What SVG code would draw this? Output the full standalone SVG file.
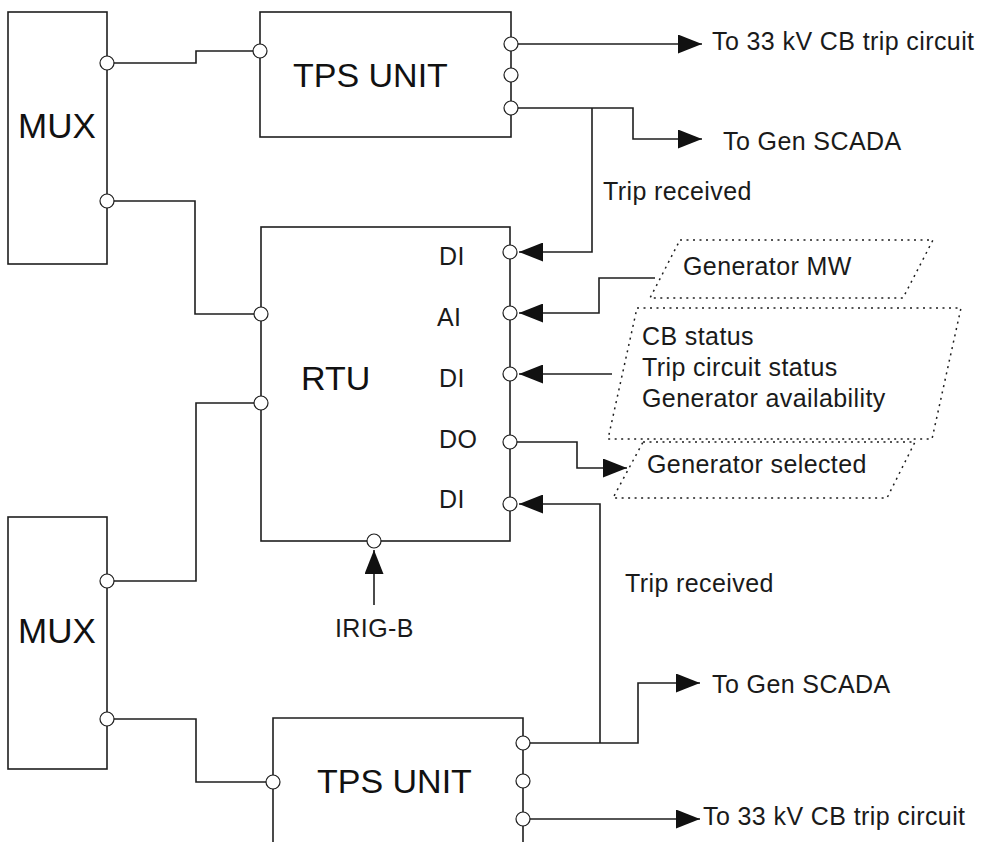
<svg xmlns="http://www.w3.org/2000/svg" width="993" height="842" viewBox="0 0 993 842">
<style>
.box{fill:none;stroke:#1e1e1e;stroke-width:1.6}
.port{fill:#fff;stroke:#1e1e1e;stroke-width:1.2}
.wire{fill:none;stroke:#1e1e1e;stroke-width:1.6}
.dot{fill:none;stroke:#1e1e1e;stroke-width:1.5;stroke-dasharray:2 4.5}
.big{font-family:"Liberation Sans",Arial,sans-serif;font-size:34px;fill:#111}
.lbl{font-family:"Liberation Sans",Arial,sans-serif;font-size:25px;fill:#1a1a1a;letter-spacing:0.4px}
</style>
<defs>
<marker id="ah" markerUnits="userSpaceOnUse" markerWidth="24" markerHeight="19" refX="24" refY="9.5" orient="auto">
<path d="M0,0 L24,9.5 L0,19 Z" fill="#111"/>
</marker>
</defs>
<rect width="993" height="842" fill="#fff"/>
<g id="connectors">
<path class="wire" d="M107,63 H196 V51 H260"/>
<path class="wire" d="M107,201 H195 V314 H261"/>
<path class="wire" d="M261,403 H196 V581 H107"/>
<path class="wire" d="M107,719 H196 V782 H273"/>
<path class="wire" d="M511,44 H702" marker-end="url(#ah)"/>
<path class="wire" d="M511,108 H633 V139 H702" marker-end="url(#ah)"/>
<path class="wire" d="M592,108 V252 H519" marker-end="url(#ah)"/>
<path class="wire" d="M655,278 H599 V313 H519" marker-end="url(#ah)"/>
<path class="wire" d="M612,374 H519" marker-end="url(#ah)"/>
<path class="wire" d="M510,442 H577 V468 H627" marker-end="url(#ah)"/>
<path class="wire" d="M600,743 V504 H519" marker-end="url(#ah)"/>
<path class="wire" d="M523,743 H638 V683 H700" marker-end="url(#ah)"/>
<path class="wire" d="M523,819 H700" marker-end="url(#ah)"/>
<path class="wire" d="M374,605 V550" marker-end="url(#ah)"/>
</g>
<g id="mux-top">
<rect class="box" x="8" y="12" width="99" height="252"/>
<text class="big" x="18" y="138" style="font-size:35px">MUX</text>
<circle class="port" cx="107" cy="63" r="7"/>
<circle class="port" cx="107" cy="201" r="7"/>
</g>
<g id="tps-top">
<rect class="box" x="260" y="12" width="251" height="125"/>
<text class="big" x="293" y="87">TPS UNIT</text>
<circle class="port" cx="260" cy="51" r="7"/>
<circle class="port" cx="511" cy="44" r="7"/>
<circle class="port" cx="511" cy="75" r="7"/>
<circle class="port" cx="511" cy="108" r="7"/>
</g>
<g id="rtu">
<rect class="box" x="261" y="227" width="249" height="314"/>
<text class="big" x="301" y="390">RTU</text>
<text class="lbl" x="439" y="265">DI</text>
<text class="lbl" x="437" y="326">AI</text>
<text class="lbl" x="439" y="387">DI</text>
<text class="lbl" x="439" y="448">DO</text>
<text class="lbl" x="439" y="508">DI</text>
<circle class="port" cx="261" cy="314" r="7"/>
<circle class="port" cx="261" cy="403" r="7"/>
<circle class="port" cx="510" cy="252" r="7"/>
<circle class="port" cx="510" cy="313" r="7"/>
<circle class="port" cx="510" cy="374" r="7"/>
<circle class="port" cx="510" cy="442" r="7"/>
<circle class="port" cx="510" cy="504" r="7"/>
<circle class="port" cx="374" cy="541" r="7"/>
</g>
<g id="mux-bottom">
<rect class="box" x="8" y="517" width="99" height="252"/>
<text class="big" x="18" y="643" style="font-size:35px">MUX</text>
<circle class="port" cx="107" cy="581" r="7"/>
<circle class="port" cx="107" cy="719" r="7"/>
</g>
<g id="tps-bottom">
<path class="box" d="M273,850 V718 H523 V850"/>
<text class="big" x="317" y="793">TPS UNIT</text>
<circle class="port" cx="273" cy="782" r="7"/>
<circle class="port" cx="523" cy="743" r="7"/>
<circle class="port" cx="523" cy="781" r="7"/>
<circle class="port" cx="523" cy="819" r="7"/>
</g>
<g id="gen-mw">
<polygon class="dot" points="680,240 933,240 903,298 650,298"/>
<text class="lbl" x="683" y="275">Generator MW</text>
</g>
<g id="status">
<polygon class="dot" points="637,308 961,308 932,439 608,439"/>
<text class="lbl" x="642" y="345">CB status</text>
<text class="lbl" x="642" y="376">Trip circuit status</text>
<text class="lbl" x="642" y="407">Generator availability</text>
</g>
<g id="gen-selected">
<polygon class="dot" points="643,442 915,442 887,498 613,498"/>
<text class="lbl" x="647" y="473">Generator selected</text>
</g>
<g id="labels">
<text class="lbl" x="712" y="50">To 33 kV CB trip circuit</text>
<text class="lbl" x="723" y="150">To Gen SCADA</text>
<text class="lbl" x="603" y="200">Trip received</text>
<text class="lbl" x="625" y="592">Trip received</text>
<text class="lbl" x="335" y="637">IRIG-B</text>
<text class="lbl" x="712" y="693">To Gen SCADA</text>
<text class="lbl" x="703" y="825">To 33 kV CB trip circuit</text>
</g>
</svg>
